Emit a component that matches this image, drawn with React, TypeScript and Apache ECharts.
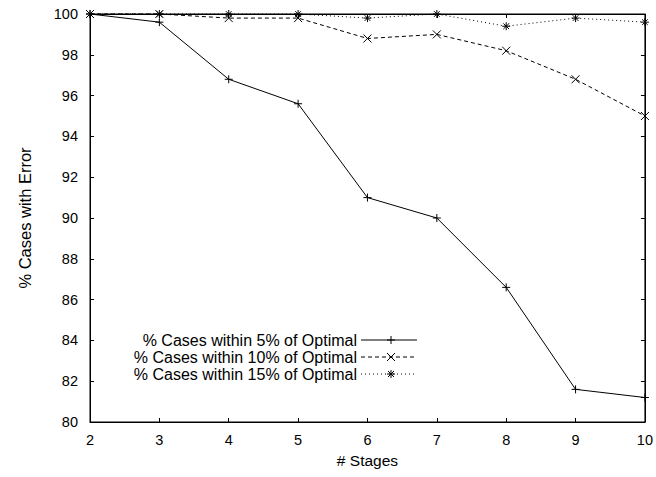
import React, { useEffect, useRef } from "react";
import * as echarts from "echarts";

const stages = [2, 3, 4, 5, 6, 7, 8, 9, 10];
const within5 = [100, 99.6, 96.8, 95.6, 91.0, 90.0, 86.6, 81.6, 81.2];
const within10 = [100, 100, 99.8, 99.8, 98.8, 99.0, 98.2, 96.8, 95.0];
const within15 = [100, 100, 100, 100, 99.8, 100, 99.4, 99.8, 99.6];
const seriesNames = [
  "% Cases within 5% of Optimal",
  "% Cases within 10% of Optimal",
  "% Cases within 15% of Optimal",
];

const FONT = "'Liberation Sans', Arial, Helvetica, sans-serif";

// stroked point markers: plus, cross, asterisk
const PLUS = "path://M5,0L5,10M0,5L10,5";
const CROSS = "path://M0,0L10,10M0,10L10,0";
const STAR = "path://M5,0L5,10M0,5L10,5M1.5,1.5L8.5,8.5M1.5,8.5L8.5,1.5";

const markerLines = (kind: number, cx: number, cy: number) => {
  const r = 4;
  const segs: number[][] = [];
  if (kind === 0 || kind === 2) {
    segs.push([cx - r, cy, cx + r, cy], [cx, cy - r, cx, cy + r]);
  }
  if (kind === 1) {
    segs.push([cx - r, cy - r, cx + r, cy + r], [cx - r, cy + r, cx + r, cy - r]);
  }
  if (kind === 2) {
    const d = 3;
    segs.push([cx - d, cy - d, cx + d, cy + d], [cx - d, cy + d, cx + d, cy - d]);
  }
  return segs.map((s) => ({
    type: "line",
    shape: { x1: s[0], y1: s[1], x2: s[2], y2: s[3] },
    style: { stroke: "#000", lineWidth: 1 },
  }));
};

export default function App() {
  const ref = useRef<HTMLDivElement>(null);

  useEffect(() => {
    if (!ref.current) return;
    const chart = echarts.init(ref.current, undefined, { renderer: "svg" });

    const dashes: (number[] | "solid")[] = ["solid", [4, 3], [1, 3]];
    const symbols = [PLUS, CROSS, STAR];
    const values = [within5, within10, within15];

    const legendRows = [340, 357, 374];
    const legendGraphics: any[] = [];
    seriesNames.forEach((name, i) => {
      legendGraphics.push({
        type: "text",
        x: 357,
        y: legendRows[i],
        style: {
          text: name,
          font: `16px ${FONT}`,
          lineHeight: 15,
          fill: "#000",
          align: "right",
          verticalAlign: "middle",
        },
      });
      legendGraphics.push({
        type: "line",
        shape: { x1: 361, y1: legendRows[i], x2: 417, y2: legendRows[i] },
        style: {
          stroke: "#000",
          lineWidth: 1,
          lineDash: dashes[i] === "solid" ? null : (dashes[i] as number[]),
        },
      });
      legendGraphics.push(...markerLines(i, 391, legendRows[i]));
    });

    const tickLabel = { color: "#000", fontFamily: FONT, fontSize: 14.5 };

    chart.setOption({
      animation: false,
      backgroundColor: "#fff",
      grid: {
        left: 90,
        right: 9,
        top: 14,
        bottom: 55,
        show: true,
        borderColor: "#000",
        borderWidth: 1,
      },
      xAxis: [
        {
          type: "value",
          min: 2,
          max: 10,
          interval: 1,
          name: "# Stages",
          nameLocation: "middle",
          nameGap: 30,
          nameTextStyle: { color: "#000", fontFamily: FONT, fontSize: 15.5 },
          axisLine: { show: true, lineStyle: { color: "#000" } },
          axisTick: { show: true, inside: true, length: 4, lineStyle: { color: "#000" } },
          axisLabel: { ...tickLabel, margin: 10 },
          splitLine: { show: false },
        },
        {
          type: "value",
          position: "top",
          min: 2,
          max: 10,
          interval: 1,
          axisLine: { show: true, lineStyle: { color: "#000" } },
          axisTick: { show: true, inside: true, length: 4, lineStyle: { color: "#000" } },
          axisLabel: { show: false },
          splitLine: { show: false },
        },
      ],
      yAxis: [
        {
          type: "value",
          min: 80,
          max: 100,
          interval: 2,
          name: "% Cases with Error",
          nameLocation: "middle",
          nameGap: 57,
          nameTextStyle: { color: "#000", fontFamily: FONT, fontSize: 16.5 },
          axisLine: { show: true, lineStyle: { color: "#000" } },
          axisTick: { show: true, inside: true, length: 4, lineStyle: { color: "#000" } },
          axisLabel: { ...tickLabel, margin: 12 },
          splitLine: { show: false },
        },
        {
          type: "value",
          position: "right",
          min: 80,
          max: 100,
          interval: 2,
          axisLine: { show: true, lineStyle: { color: "#000" } },
          axisTick: { show: true, inside: true, length: 4, lineStyle: { color: "#000" } },
          axisLabel: { show: false },
          splitLine: { show: false },
        },
      ],
      series: seriesNames.map((name, i) => ({
        name,
        type: "line",
        xAxisIndex: 0,
        yAxisIndex: 0,
        data: stages.map((s, j) => [s, values[i][j]]),
        symbol: symbols[i],
        symbolSize: 8,
        symbolKeepAspect: true,
        showAllSymbol: true,
        clip: false,
        z: 3 - i,
        lineStyle: { color: "#000", width: 1, type: dashes[i] },
        itemStyle: { color: "none", borderColor: "#000", borderWidth: 1 },
        emphasis: { disabled: true },
      })),
      graphic: legendGraphics,
    });

    return () => chart.dispose();
  }, []);

  return (
    <div
      ref={ref}
      style={{ position: "fixed", left: 0, top: 0, width: 656, height: 477, background: "#fff" }}
    />
  );
}
